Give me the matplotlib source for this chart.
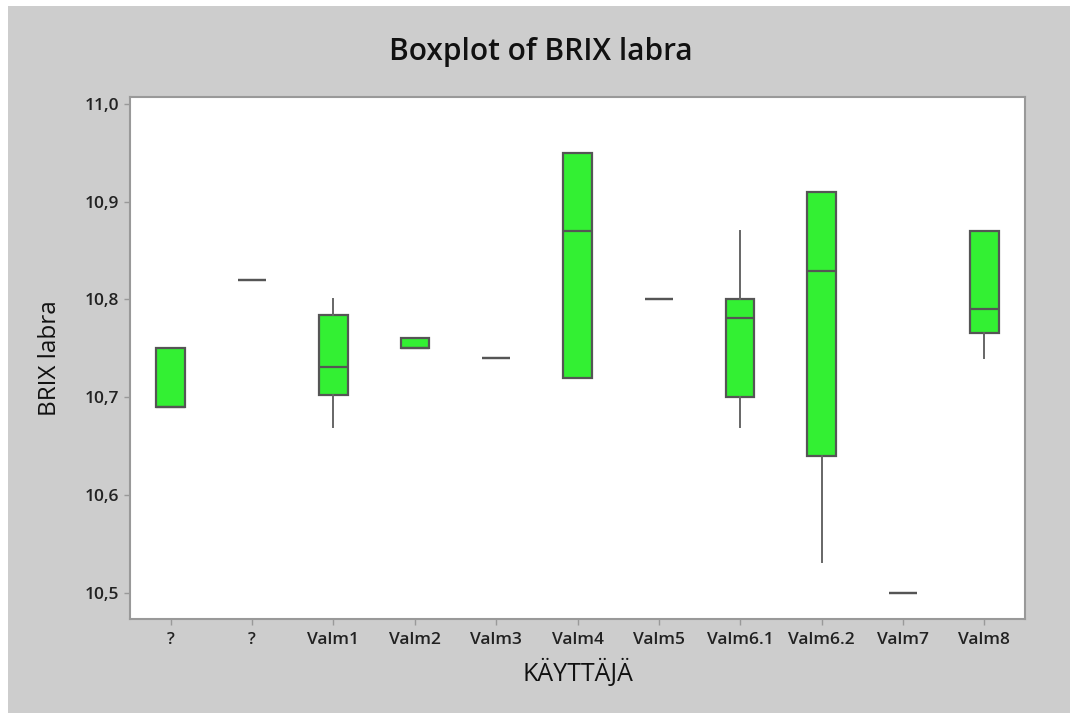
import matplotlib
matplotlib.use("Agg")
import matplotlib.pyplot as plt
from matplotlib.patches import Rectangle

categories = ["?", "?", "Valm1", "Valm2", "Valm3", "Valm4", "Valm5",
              "Valm6.1", "Valm6.2", "Valm7", "Valm8"]
q1 =      [10.69, 10.82, 10.702, 10.75, 10.74, 10.72, 10.80, 10.70, 10.64, 10.50, 10.766]
median =  [10.69, 10.82, 10.731, 10.75, 10.74, 10.87, 10.80, 10.781, 10.829, 10.50, 10.790]
q3 =      [10.75, 10.82, 10.784, 10.76, 10.74, 10.95, 10.80, 10.80, 10.91, 10.50, 10.87]
whislo =  [10.69, 10.82, 10.669, 10.75, 10.74, 10.72, 10.80, 10.669, 10.531, 10.50, 10.740]
whishi =  [10.75, 10.82, 10.80, 10.76, 10.74, 10.95, 10.80, 10.870, 10.91, 10.50, 10.87]
yticks = [10.5, 10.6, 10.7, 10.8, 10.9, 11.0]
ytick_labels = ["10,5", "10,6", "10,7", "10,8", "10,9", "11,0"]

plt.rcParams['font.family'] = ['Open Sans', 'DejaVu Sans']

W, H = 1070, 713
fig = plt.figure(figsize=(W / 100, H / 100), dpi=100)
bg = "#cdcdcd"
fig.patch.set_facecolor(bg)
# white strips on top and left
fig.add_artist(Rectangle((0, 1 - 6 / H), 1, 6 / H, transform=fig.transFigure,
                         facecolor="white", edgecolor="none", zorder=-1))
fig.add_artist(Rectangle((0, 0), 8 / W, 1, transform=fig.transFigure,
                         facecolor="white", edgecolor="none", zorder=-1))

left, right, top, bottom = 130, 1025, 97, 619
ax = fig.add_axes([left / W, 1 - bottom / H, (right - left) / W, (bottom - top) / H])
ax.set_facecolor("white")

stats = []
for i, c in enumerate(categories):
    stats.append(dict(label=c, q1=q1[i], med=median[i], q3=q3[i],
                      whislo=whislo[i], whishi=whishi[i], fliers=[]))

positions = list(range(1, len(categories) + 1))
ax.bxp(stats, positions=positions, widths=0.35, patch_artist=True,
       showcaps=False, showfliers=False,
       boxprops=dict(facecolor="#33f033", edgecolor="#555555", linewidth=1.6),
       medianprops=dict(color="#555555", linewidth=1.6),
       whiskerprops=dict(color="#666666", linewidth=1.4))

ax.set_xlim(0.5, len(categories) + 0.5)
ax.set_ylim(10.473, 11.007)
ax.set_yticks(yticks)
ax.set_yticklabels(ytick_labels)
ax.set_xticks(positions)
ax.set_xticklabels(categories)

for sp in ax.spines.values():
    sp.set_color("#999999")
    sp.set_linewidth(1.5)
ax.tick_params(axis="both", colors="#999999", length=4, width=1,
               labelcolor="#222222", labelsize=12.5)
for lab in ax.get_xticklabels() + ax.get_yticklabels():
    lab.set_fontweight("semibold")
ax.tick_params(axis="x", pad=5)
ax.tick_params(axis="y", pad=4)

ax.set_xlabel("KÄYTTÄJÄ", fontsize=18, color="#111111", labelpad=8)
ax.set_ylabel("BRIX labra", fontsize=17.5, color="#111111", labelpad=16)
fig.text(541 / W, 1 - 52 / H, "Boxplot of BRIX labra", ha="center", va="center",
         fontsize=21.5, fontweight="semibold", color="#111111")

fig.savefig("out.png", dpi=100, facecolor=fig.get_facecolor())
